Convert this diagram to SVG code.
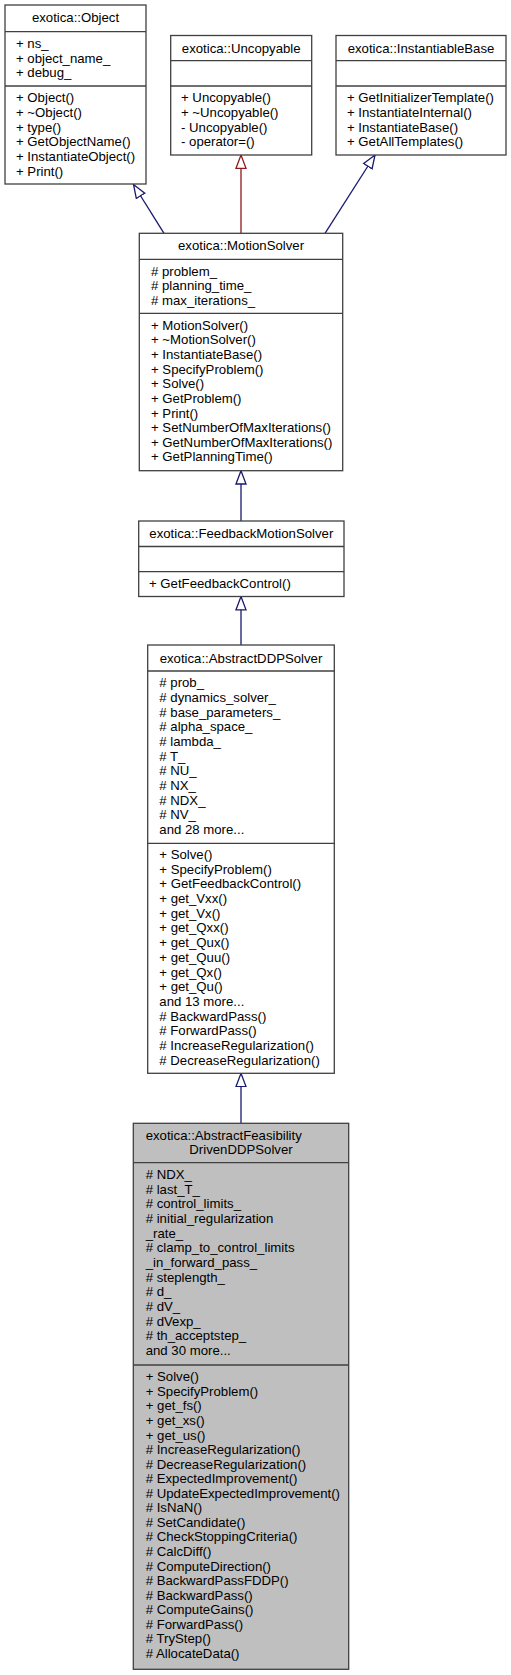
<svg xmlns="http://www.w3.org/2000/svg" width="511" height="1675" viewBox="0 0 511 1675">
<style>
text{font-family:"Liberation Sans",Arial,Helvetica,sans-serif;font-size:13.2px;fill:#000}
.c{text-anchor:middle}
.box{fill:#fff;stroke:#404040;stroke-width:1.3}
.cur{fill:#bfbfbf;stroke:#404040;stroke-width:1.3}
.div{stroke:#404040;stroke-width:1.3}
.pub{fill:none;stroke:#191970;stroke-width:1.3}
.priv{fill:none;stroke:#8b1a1a;stroke-width:1.3}
</style>
<defs>
<marker id="ab" markerUnits="userSpaceOnUse" markerWidth="16" markerHeight="12" refX="14" refY="6" orient="auto">
<path d="M0.7,1 L14,6 L0.7,11 Z" fill="#fff" stroke="#191970" stroke-width="1.3"/>
</marker>
<marker id="ar" markerUnits="userSpaceOnUse" markerWidth="16" markerHeight="12" refX="14" refY="6" orient="auto">
<path d="M0.7,1 L14,6 L0.7,11 Z" fill="#fff" stroke="#8b1a1a" stroke-width="1.3"/>
</marker>
</defs>
<rect width="511" height="1675" fill="#fff"/>
<g id="connectors">
<path class="pub" d="M164,233.3 L133.5,184.5" marker-end="url(#ab)"/>
<path class="priv" d="M241,233.3 L241,155" marker-end="url(#ar)"/>
<path class="pub" d="M325,233.3 L375,155" marker-end="url(#ab)"/>
<path class="pub" d="M241,521 L241,470.7" marker-end="url(#ab)"/>
<path class="pub" d="M241,645 L241,596.5" marker-end="url(#ab)"/>
<path class="pub" d="M241,1123.3 L241,1073.3" marker-end="url(#ab)"/>
</g>
<g id="node-object">
<rect class="box" x="5" y="5" width="141" height="179"/>
<line class="div" x1="5" y1="31.7" x2="146" y2="31.7"/>
<line class="div" x1="5" y1="86" x2="146" y2="86"/>
<text class="c" x="75.5" y="22">exotica::Object</text>
<text x="16" y="48">+ ns_</text>
<text x="16" y="62.65">+ object_name_</text>
<text x="16" y="77.3">+ debug_</text>
<text x="16" y="102.3">+ Object()</text>
<text x="16" y="116.95">+ ~Object()</text>
<text x="16" y="131.6">+ type()</text>
<text x="16" y="146.25">+ GetObjectName()</text>
<text x="16" y="160.9">+ InstantiateObject()</text>
<text x="16" y="175.55">+ Print()</text>
</g>
<g id="node-uncopyable">
<rect class="box" x="170.7" y="35.5" width="141" height="119.5"/>
<line class="div" x1="170.7" y1="60.7" x2="311.7" y2="60.7"/>
<line class="div" x1="170.7" y1="86" x2="311.7" y2="86"/>
<text class="c" x="241.2" y="52.5">exotica::Uncopyable</text>
<text x="181" y="102.3">+ Uncopyable()</text>
<text x="181" y="116.95">+ ~Uncopyable()</text>
<text x="181" y="131.6">- Uncopyable()</text>
<text x="181" y="146.25">- operator=()</text>
</g>
<g id="node-instantiablebase">
<rect class="box" x="336" y="35.5" width="170" height="119.5"/>
<line class="div" x1="336" y1="60.7" x2="506" y2="60.7"/>
<line class="div" x1="336" y1="86" x2="506" y2="86"/>
<text class="c" x="421" y="52.5">exotica::InstantiableBase</text>
<text x="347" y="102.3">+ GetInitializerTemplate()</text>
<text x="347" y="116.95">+ InstantiateInternal()</text>
<text x="347" y="131.6">+ InstantiateBase()</text>
<text x="347" y="146.25">+ GetAllTemplates()</text>
</g>
<g id="node-motionsolver">
<rect class="box" x="139.3" y="233.3" width="203.4" height="237.4"/>
<line class="div" x1="139.3" y1="259.3" x2="342.7" y2="259.3"/>
<line class="div" x1="139.3" y1="313.3" x2="342.7" y2="313.3"/>
<text class="c" x="241" y="250.3">exotica::MotionSolver</text>
<text x="151" y="275.6"># problem_</text>
<text x="151" y="290.25"># planning_time_</text>
<text x="151" y="304.9"># max_iterations_</text>
<text x="151" y="329.6">+ MotionSolver()</text>
<text x="151" y="344.25">+ ~MotionSolver()</text>
<text x="151" y="358.9">+ InstantiateBase()</text>
<text x="151" y="373.55">+ SpecifyProblem()</text>
<text x="151" y="388.2">+ Solve()</text>
<text x="151" y="402.85">+ GetProblem()</text>
<text x="151" y="417.5">+ Print()</text>
<text x="151" y="432.15">+ SetNumberOfMaxIterations()</text>
<text x="151" y="446.8">+ GetNumberOfMaxIterations()</text>
<text x="151" y="461.45">+ GetPlanningTime()</text>
</g>
<g id="node-feedbackmotionsolver">
<rect class="box" x="138.7" y="521" width="205.3" height="75.5"/>
<line class="div" x1="138.7" y1="546.5" x2="344" y2="546.5"/>
<line class="div" x1="138.7" y1="571.7" x2="344" y2="571.7"/>
<text class="c" x="241.3" y="538">exotica::FeedbackMotionSolver</text>
<text x="149" y="588">+ GetFeedbackControl()</text>
</g>
<g id="node-abstractddpsolver">
<rect class="box" x="147.7" y="645" width="186.6" height="428.3"/>
<line class="div" x1="147.7" y1="671" x2="334.3" y2="671"/>
<line class="div" x1="147.7" y1="843.3" x2="334.3" y2="843.3"/>
<text class="c" x="241" y="662.5">exotica::AbstractDDPSolver</text>
<text x="159.3" y="687.3"># prob_</text>
<text x="159.3" y="701.95"># dynamics_solver_</text>
<text x="159.3" y="716.6"># base_parameters_</text>
<text x="159.3" y="731.25"># alpha_space_</text>
<text x="159.3" y="745.9"># lambda_</text>
<text x="159.3" y="760.55"># T_</text>
<text x="159.3" y="775.2"># NU_</text>
<text x="159.3" y="789.85"># NX_</text>
<text x="159.3" y="804.5"># NDX_</text>
<text x="159.3" y="819.15"># NV_</text>
<text x="159.3" y="833.8">and 28 more...</text>
<text x="159.3" y="858.8">+ Solve()</text>
<text x="159.3" y="873.52">+ SpecifyProblem()</text>
<text x="159.3" y="888.24">+ GetFeedbackControl()</text>
<text x="159.3" y="902.96">+ get_Vxx()</text>
<text x="159.3" y="917.68">+ get_Vx()</text>
<text x="159.3" y="932.4">+ get_Qxx()</text>
<text x="159.3" y="947.12">+ get_Qux()</text>
<text x="159.3" y="961.84">+ get_Quu()</text>
<text x="159.3" y="976.56">+ get_Qx()</text>
<text x="159.3" y="991.28">+ get_Qu()</text>
<text x="159.3" y="1006">and 13 more...</text>
<text x="159.3" y="1020.72"># BackwardPass()</text>
<text x="159.3" y="1035.44"># ForwardPass()</text>
<text x="159.3" y="1050.16"># IncreaseRegularization()</text>
<text x="159.3" y="1064.88"># DecreaseRegularization()</text>
</g>
<g id="node-abstractfeasibilitydrivenddpsolver">
<rect class="cur" x="133.3" y="1123.3" width="215.4" height="546"/>
<line class="div" x1="133.3" y1="1162.7" x2="348.7" y2="1162.7"/>
<line class="div" x1="133.3" y1="1365" x2="348.7" y2="1365"/>
<text x="145.7" y="1139.8">exotica::AbstractFeasibility</text>
<text class="c" x="241" y="1154">DrivenDDPSolver</text>
<text x="145.7" y="1179"># NDX_</text>
<text x="145.7" y="1193.65"># last_T_</text>
<text x="145.7" y="1208.3"># control_limits_</text>
<text x="145.7" y="1222.95"># initial_regularization</text>
<text x="145.7" y="1237.6">_rate_</text>
<text x="145.7" y="1252.25"># clamp_to_control_limits</text>
<text x="145.7" y="1266.9">_in_forward_pass_</text>
<text x="145.7" y="1281.55"># steplength_</text>
<text x="145.7" y="1296.2"># d_</text>
<text x="145.7" y="1310.85"># dV_</text>
<text x="145.7" y="1325.5"># dVexp_</text>
<text x="145.7" y="1340.15"># th_acceptstep_</text>
<text x="145.7" y="1354.8">and 30 more...</text>
<text x="145.7" y="1381.3">+ Solve()</text>
<text x="145.7" y="1395.86">+ SpecifyProblem()</text>
<text x="145.7" y="1410.42">+ get_fs()</text>
<text x="145.7" y="1424.98">+ get_xs()</text>
<text x="145.7" y="1439.54">+ get_us()</text>
<text x="145.7" y="1454.1"># IncreaseRegularization()</text>
<text x="145.7" y="1468.66"># DecreaseRegularization()</text>
<text x="145.7" y="1483.22"># ExpectedImprovement()</text>
<text x="145.7" y="1497.78"># UpdateExpectedImprovement()</text>
<text x="145.7" y="1512.34"># IsNaN()</text>
<text x="145.7" y="1526.9"># SetCandidate()</text>
<text x="145.7" y="1541.46"># CheckStoppingCriteria()</text>
<text x="145.7" y="1556.02"># CalcDiff()</text>
<text x="145.7" y="1570.58"># ComputeDirection()</text>
<text x="145.7" y="1585.14"># BackwardPassFDDP()</text>
<text x="145.7" y="1599.7"># BackwardPass()</text>
<text x="145.7" y="1614.26"># ComputeGains()</text>
<text x="145.7" y="1628.82"># ForwardPass()</text>
<text x="145.7" y="1643.38"># TryStep()</text>
<text x="145.7" y="1657.94"># AllocateData()</text>
</g>
</svg>
